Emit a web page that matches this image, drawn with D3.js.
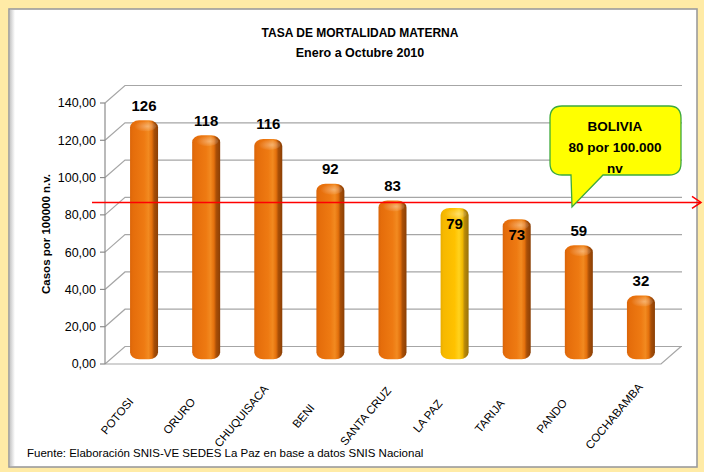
<!DOCTYPE html>
<html><head><meta charset="utf-8">
<script src="https://cdn.jsdelivr.net/npm/d3@7"></script>
<style>html,body{margin:0;padding:0;background:#FFEBA6;}svg{display:block;}</style>
</head><body>
<script>
// ---- data ----
const categories = ["POTOSI","ORURO","CHUQUISACA","BENI","SANTA CRUZ","LA PAZ","TARIJA","PANDO","COCHABAMBA"];
const values = [126,118,116,92,83,79,73,59,32];
const highlight = ["LA PAZ"];
const yTicks = [0,20,40,60,80,100,120,140];
const refLineValue = 82;            // position of the red line
const calloutLines = ["BOLIVIA","80 por 100.000","nv"];
const titleLines = ["TASA DE MORTALIDAD MATERNA","Enero a Octubre 2010"];
const yTitle = "Casos por 100000 n.v.";
const source = "Fuente: Elaboración SNIS-VE SEDES La Paz en base a datos SNIS Nacional";

const W=704,H=472;
const FONT="'Liberation Sans', Arial, sans-serif";
const svg=d3.select("body").append("svg").attr("width",W).attr("height",H);
const defs=svg.append("defs");

// background + panel
svg.append("rect").attr("width",W).attr("height",H).attr("fill","#FFEBA6");
svg.append("rect").attr("x",9).attr("y",9).attr("width",688).attr("height",458)
  .attr("fill","#fff").attr("stroke","#9c9c9c").attr("stroke-width",1.6);
const sh=defs.append("linearGradient").attr("id","shadow");
sh.append("stop").attr("offset","0").attr("stop-color","#c8c8c8");
sh.append("stop").attr("offset","1").attr("stop-color","#fff");
svg.append("rect").attr("x",10).attr("y",10).attr("width",5).attr("height",456).attr("fill","url(#shadow)");

// scales
const yF=d3.scaleLinear().domain([0,140]).range([364,103]);
const DX=20, DY=-17.5;
const yB=v=>yF(v)+DY/2;
const x=d3.scalePoint().domain(categories).range([113,672]).padding(0.5);
const bw=28;
const xL=105, xR=661;
const fmt=d3.formatLocale({decimal:",",thousands:".",grouping:[3],currency:["",""]}).format(".2f");

// title
svg.append("g").selectAll("text").data(titleLines).join("text")
  .attr("x",360).attr("y",(d,i)=>37+i*20).attr("text-anchor","middle")
  .attr("font-family",FONT).attr("font-weight","bold").attr("font-size",(d,i)=>i?12.5:12)
  .attr("fill","#000").text(d=>d);

// walls / gridlines
const grid=svg.append("g").attr("stroke","#a6a6a6").attr("stroke-width",1.2).attr("fill","none");
grid.append("path").attr("d",`M${xL},${yF(0)}L${xR},${yF(0)}L${xR+DX},${yF(0)+DY}`);
yTicks.forEach(v=>{
  grid.append("path").attr("d",`M${xL},${yF(v)}L${xL+DX},${yF(v)+DY}L${xR+DX+1},${yF(v)+DY}`);
});
// front y axis
const ax=svg.append("g");
ax.append("line").attr("x1",xL).attr("x2",xL).attr("y1",yF(0)).attr("y2",yF(140)).attr("stroke","#8c8c8c").attr("stroke-width",1.2);
ax.selectAll("line.t").data(yTicks).join("line").attr("class","t")
  .attr("x1",xL-5).attr("x2",xL).attr("y1",d=>yF(d)).attr("y2",d=>yF(d)).attr("stroke","#8c8c8c").attr("stroke-width",1.2);
ax.selectAll("text").data(yTicks).join("text")
  .attr("x",96).attr("y",d=>yF(d)).attr("dy","0.35em").attr("text-anchor","end")
  .attr("font-family",FONT).attr("font-size",12.5).attr("fill","#000").text(d=>fmt(d));

svg.append("text").attr("transform",`translate(50,234) rotate(-90)`).attr("text-anchor","middle")
  .attr("font-family",FONT).attr("font-weight","bold").attr("font-size",11.5).attr("fill","#000").text(yTitle);

// gradients for cylinders
function cyl(id,stops){
  const g=defs.append("linearGradient").attr("id",id).attr("x1","0").attr("x2","1").attr("y1","0").attr("y2","0");
  stops.forEach(s=>g.append("stop").attr("offset",s[0]).attr("stop-color",s[1]));
}
cyl("gOr",[[0,"#d9650a"],[0.1,"#e56d0b"],[0.5,"#ee7a12"],[0.66,"#f28a20"],[0.78,"#e3700c"],[0.86,"#a94f07"],[1,"#8a3f05"]]);
cyl("gYe",[[0,"#e8ac00"],[0.1,"#f6b800"],[0.5,"#ffc200"],[0.66,"#ffd21e"],[0.78,"#f2b900"],[0.86,"#b8890a"],[1,"#9a7206"]]);
const topG=defs.append("radialGradient").attr("id","gTop").attr("cx","0.6").attr("cy","0.5").attr("r","0.6");
topG.append("stop").attr("offset",0).attr("stop-color","#fff").attr("stop-opacity",0.35);
topG.append("stop").attr("offset",1).attr("stop-color","#fff").attr("stop-opacity",0);

const bars=svg.append("g").selectAll("g").data(categories).join("g");
bars.append("rect")
  .attr("x",d=>x(d)-bw/2).attr("width",bw)
  .attr("y",(d,i)=>yB(values[i])).attr("height",(d,i)=>yB(0)-yB(values[i])+4)
  .attr("rx",9).attr("ry",7)
  .attr("fill",d=>highlight.includes(d)?"url(#gYe)":"url(#gOr)");
bars.append("ellipse")
  .attr("cx",d=>x(d)+1).attr("cy",(d,i)=>yB(values[i])+6).attr("rx",bw/2-3).attr("ry",5)
  .attr("fill","url(#gTop)");

// reference line
const refY=yB(refLineValue);
svg.append("line").attr("x1",92).attr("x2",701).attr("y1",refY).attr("y2",refY)
  .attr("stroke","#ff0000").attr("stroke-width",1.5);
svg.append("path").attr("d",`M692,${refY-6}L701,${refY}L692,${refY+6}`)
  .attr("fill","none").attr("stroke","#ff0000").attr("stroke-width",1.5);

// value labels
svg.append("g").selectAll("text").data(categories).join("text")
  .attr("x",d=>x(d)).attr("y",(d,i)=>{
     const top=yB(values[i]); const above=top-15;
     return Math.abs(above-refY)<10 ? top+16 : above;
  })
  .attr("dy","0.35em").attr("text-anchor","middle")
  .attr("font-family",FONT).attr("font-weight","bold").attr("font-size",15).attr("fill","#000")
  .text((d,i)=>values[i]);

// category labels
svg.append("g").selectAll("text").data(categories).join("text")
  .attr("transform",d=>`translate(${x(d)-27},${416}) rotate(-50)`)
  .attr("text-anchor","middle").attr("dy","0.35em")
  .attr("font-family",FONT).attr("font-size",11.5).attr("fill","#000").text(d=>d);

// callout
const cx0=550,cy0=106,cw=131,ch=69,r=12;
const tail=[[571,cy0+ch],[572,207],[603,cy0+ch]];
const p=d3.path();
p.moveTo(cx0+r,cy0);p.lineTo(cx0+cw-r,cy0);p.quadraticCurveTo(cx0+cw,cy0,cx0+cw,cy0+r);
p.lineTo(cx0+cw,cy0+ch-r);p.quadraticCurveTo(cx0+cw,cy0+ch,cx0+cw-r,cy0+ch);
p.lineTo(tail[2][0],tail[2][1]);p.lineTo(tail[1][0],tail[1][1]);p.lineTo(tail[0][0],tail[0][1]);
p.lineTo(cx0+r,cy0+ch);p.quadraticCurveTo(cx0,cy0+ch,cx0,cy0+ch-r);
p.lineTo(cx0,cy0+r);p.quadraticCurveTo(cx0,cy0,cx0+r,cy0);p.closePath();
svg.append("path").attr("d",p.toString()).attr("fill","#ffff00").attr("stroke","#3daa3d").attr("stroke-width",1.3);
svg.append("g").selectAll("text").data(calloutLines).join("text")
  .attr("x",615).attr("y",(d,i)=>126+i*21).attr("dy","0.35em").attr("text-anchor","middle")
  .attr("font-family",FONT).attr("font-weight","bold").attr("font-size",13.5).attr("fill","#000").text(d=>d);

// source
svg.append("text").attr("x",27).attr("y",457).attr("font-family",FONT).attr("font-size",11.5)
  .attr("fill","#000").text(source);
</script>
</body></html>
